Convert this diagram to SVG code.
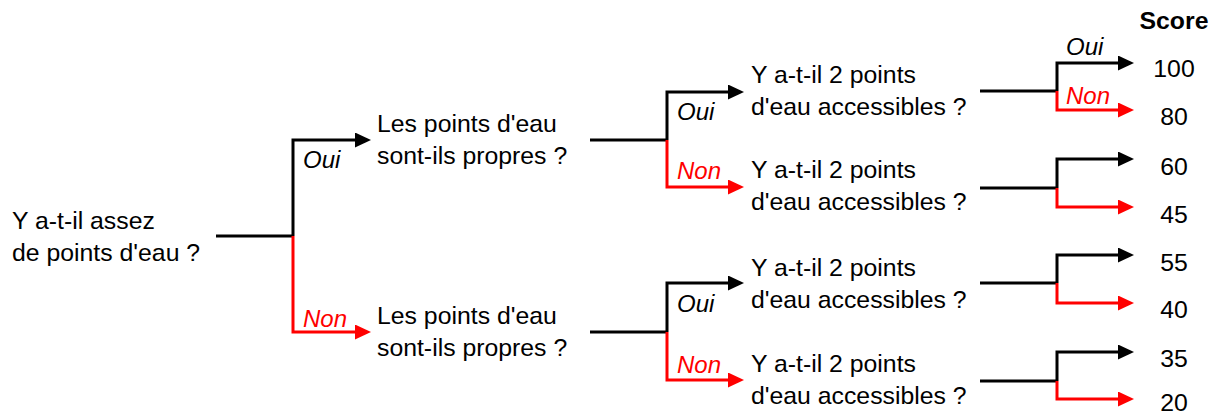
<svg xmlns="http://www.w3.org/2000/svg" width="1214" height="415" viewBox="0 0 1214 415">
<style>
text{font-family:"Liberation Sans",Arial,sans-serif;font-size:24.8px;fill:#000}
.lbl{font-style:italic;font-size:24px}
.red{fill:#ff0000}
.score{text-anchor:middle}
.bold{font-weight:bold}
.k{fill:none;stroke:#000;stroke-width:3}
.r{fill:none;stroke:#ff0000;stroke-width:3}
.ka{marker-end:url(#ak)}
.ra{marker-end:url(#ar)}
</style>
<defs>
<marker id="ak" markerUnits="userSpaceOnUse" markerWidth="16" markerHeight="15" refX="8" refY="7.5" orient="auto" viewBox="0 0 16 15"><path d="M0,0 L16,7.5 L0,15 z" fill="#000"/></marker>
<marker id="ar" markerUnits="userSpaceOnUse" markerWidth="16" markerHeight="15" refX="8" refY="7.5" orient="auto" viewBox="0 0 16 15"><path d="M0,0 L16,7.5 L0,15 z" fill="#ff0000"/></marker>
</defs>
<rect width="1214" height="415" fill="#fff"/>
<g id="connectors">
<path class="k" d="M216,236 H293"/>
<path class="r ra" d="M293,236 V332 H363"/>
<path class="k ka" d="M293,236 V140 H363"/>
<path class="k" d="M590,140 H667"/>
<path class="r ra" d="M667,140 V187 H736"/>
<path class="k ka" d="M667,140 V92 H736"/>
<path class="k" d="M590,332 H667"/>
<path class="r ra" d="M667,332 V380 H736"/>
<path class="k ka" d="M667,332 V283 H736"/>
<path class="k" d="M980,91 H1057"/>
<path class="r ra" d="M1057,91 V110 H1126"/>
<path class="k ka" d="M1057,91 V63 H1126"/>
<path class="k" d="M980,188 H1057"/>
<path class="r ra" d="M1057,188 V207 H1126"/>
<path class="k ka" d="M1057,188 V159 H1126"/>
<path class="k" d="M980,283 H1057"/>
<path class="r ra" d="M1057,283 V303 H1126"/>
<path class="k ka" d="M1057,283 V255 H1126"/>
<path class="k" d="M980,381 H1057"/>
<path class="r ra" d="M1057,381 V399 H1126"/>
<path class="k ka" d="M1057,381 V352 H1126"/>
</g>
<g id="edge-labels">
<text class="lbl" x="303" y="168">Oui</text>
<text class="lbl red" x="303" y="327">Non</text>
<text class="lbl" x="677" y="120">Oui</text>
<text class="lbl red" x="677" y="179">Non</text>
<text class="lbl" x="677" y="312">Oui</text>
<text class="lbl red" x="677" y="373">Non</text>
<text class="lbl" x="1066" y="55">Oui</text>
<text class="lbl red" x="1066" y="104">Non</text>
</g>
<g id="n-root"><text x="12" y="229">Y a-t-il assez</text><text x="12" y="261">de points d'eau ?</text></g>
<g id="n-propres-oui"><text x="377" y="132">Les points d'eau</text><text x="377" y="164">sont-ils propres ?</text></g>
<g id="n-propres-non"><text x="377" y="324">Les points d'eau</text><text x="377" y="356">sont-ils propres ?</text></g>
<g id="n-acc-1"><text x="751" y="83">Y a-t-il 2 points</text><text x="751" y="115">d'eau accessibles ?</text></g>
<g id="n-acc-2"><text x="751" y="178">Y a-t-il 2 points</text><text x="751" y="210">d'eau accessibles ?</text></g>
<g id="n-acc-3"><text x="751" y="276">Y a-t-il 2 points</text><text x="751" y="308">d'eau accessibles ?</text></g>
<g id="n-acc-4"><text x="751" y="372">Y a-t-il 2 points</text><text x="751" y="404">d'eau accessibles ?</text></g>
<g id="scores">
<text class="score bold" x="1174" y="29">Score</text>
<text class="score" x="1174" y="77">100</text>
<text class="score" x="1174" y="125">80</text>
<text class="score" x="1174" y="175">60</text>
<text class="score" x="1174" y="223">45</text>
<text class="score" x="1174" y="271">55</text>
<text class="score" x="1174" y="318">40</text>
<text class="score" x="1174" y="367">35</text>
<text class="score" x="1174" y="411">20</text>
</g>
</svg>
